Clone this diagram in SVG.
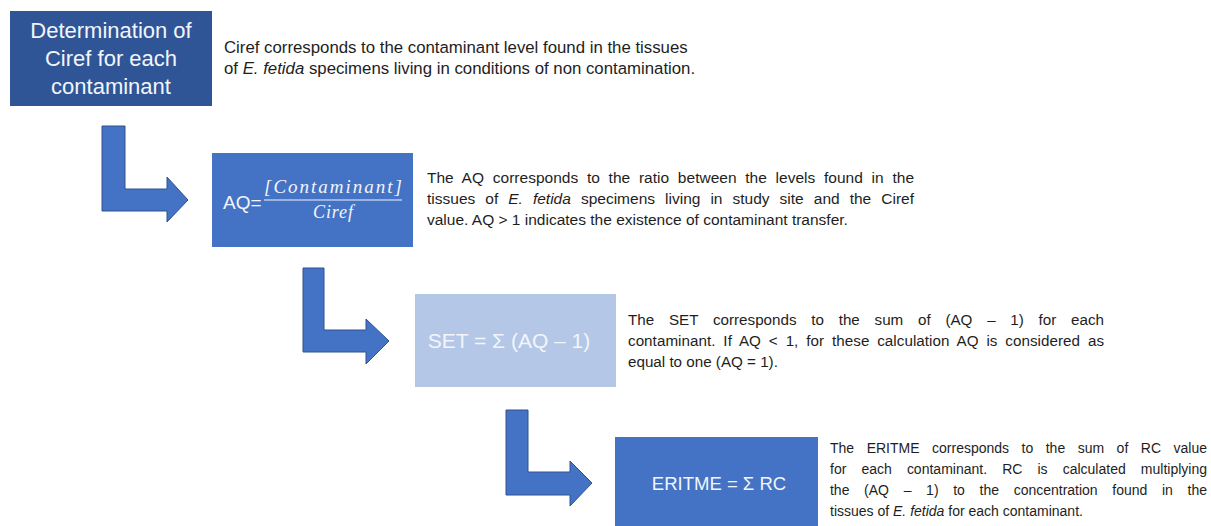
<svg xmlns="http://www.w3.org/2000/svg" width="1211" height="526" viewBox="0 0 1211 526">
<style>
.bg{fill:#FFFFFF}
.dark{fill:#2F5597}
.mid{fill:#4472C4}
.light{fill:#B4C7E7}
.arrow{fill:#4472C4;stroke:#2F528F;stroke-width:1}
.boxtxt{font-family:"Liberation Sans",Arial,sans-serif;fill:#F2F5FA;text-anchor:middle}
.desc{font-family:"Liberation Sans",Arial,sans-serif;fill:#1E1E1E}
.math{font-family:"Liberation Serif","DejaVu Serif",serif;font-style:italic;fill:#F2F5FA;text-anchor:middle}
.it{font-style:italic}
</style>
<rect class="bg" x="0" y="0" width="1211" height="526"/>

<g id="connectors">
  <path class="arrow" d="M102,126 H125 V189 H167 V177 L188,200 L167,222 V211 H102 Z"/>
  <path class="arrow" d="M303,268 H324 V330 H366 V319 L389,341 L366,364 V352 H303 Z"/>
  <path class="arrow" d="M506,410 H528 V472 H570 V461 L592,483 L570,506 V495 H506 Z"/>
</g>

<g id="node-ciref">
  <rect class="dark" x="10" y="11" width="202" height="95"/>
  <text class="boxtxt" font-size="22" x="111" y="38">Determination of</text>
  <text class="boxtxt" font-size="22" x="111" y="66">Ciref for each</text>
  <text class="boxtxt" font-size="22" x="111" y="94">contaminant</text>
  <text class="desc" font-size="16.8" x="224" y="53">Ciref corresponds to the contaminant level found in the tissues</text>
  <text class="desc" font-size="16.8" x="224" y="74">of <tspan class="it">E. fetida</tspan> specimens living in conditions of non contamination.</text>
</g>

<g id="node-aq">
  <rect class="mid" x="212" y="153" width="201" height="94"/>
  <text class="boxtxt" font-size="19" x="223" y="209" style="text-anchor:start">AQ=</text>
  <text class="math" font-size="19" x="333" y="193" textLength="138" lengthAdjust="spacing">[Contaminant]</text>
  <line x1="264" y1="200" x2="402" y2="200" stroke="#F2F5FA" stroke-width="1.2"/>
  <text class="math" font-size="18" x="333" y="218" textLength="40" lengthAdjust="spacing">Ciref</text>
  <text class="desc" font-size="15.5" x="427" y="183" word-spacing="4.4" textLength="487" lengthAdjust="spacing">The AQ corresponds to the ratio between the levels found in the</text>
  <text class="desc" font-size="15.5" x="427" y="204" word-spacing="5.7" textLength="487" lengthAdjust="spacing">tissues of <tspan class="it">E. fetida</tspan> specimens living in study site and the Ciref</text>
  <text class="desc" font-size="15.5" x="427" y="225">value. AQ &gt; 1 indicates the existence of contaminant transfer.</text>
</g>

<g id="node-set">
  <rect class="light" x="415" y="294" width="201" height="93"/>
  <text class="boxtxt" font-size="21" x="509" y="348" fill="#FFFFFF">SET = Σ (AQ – 1)</text>
  <text class="desc" font-size="15.2" x="628" y="325" word-spacing="10.5" textLength="476" lengthAdjust="spacing">The SET corresponds to the sum of (AQ – 1) for each</text>
  <text class="desc" font-size="15.2" x="628" y="346" word-spacing="3.6" textLength="476" lengthAdjust="spacing">contaminant. If AQ &lt; 1, for these calculation AQ is considered as</text>
  <text class="desc" font-size="15.2" x="628" y="367">equal to one (AQ = 1).</text>
</g>

<g id="node-eritme">
  <rect class="mid" x="615" y="437" width="203" height="95"/>
  <text class="boxtxt" font-size="18.5" x="719" y="490">ERITME = Σ RC</text>
  <text class="desc" font-size="14" x="830" y="453" word-spacing="8.6" textLength="377" lengthAdjust="spacing">The ERITME corresponds to the sum of RC value</text>
  <text class="desc" font-size="14" x="830" y="474" word-spacing="11.2" textLength="377" lengthAdjust="spacing">for each contaminant. RC is calculated multiplying</text>
  <text class="desc" font-size="14" x="830" y="495" word-spacing="10.8" textLength="377" lengthAdjust="spacing">the (AQ – 1) to the concentration found in the</text>
  <text class="desc" font-size="14" x="830" y="516">tissues of <tspan class="it">E. fetida</tspan> for each contaminant.</text>
</g>
</svg>
